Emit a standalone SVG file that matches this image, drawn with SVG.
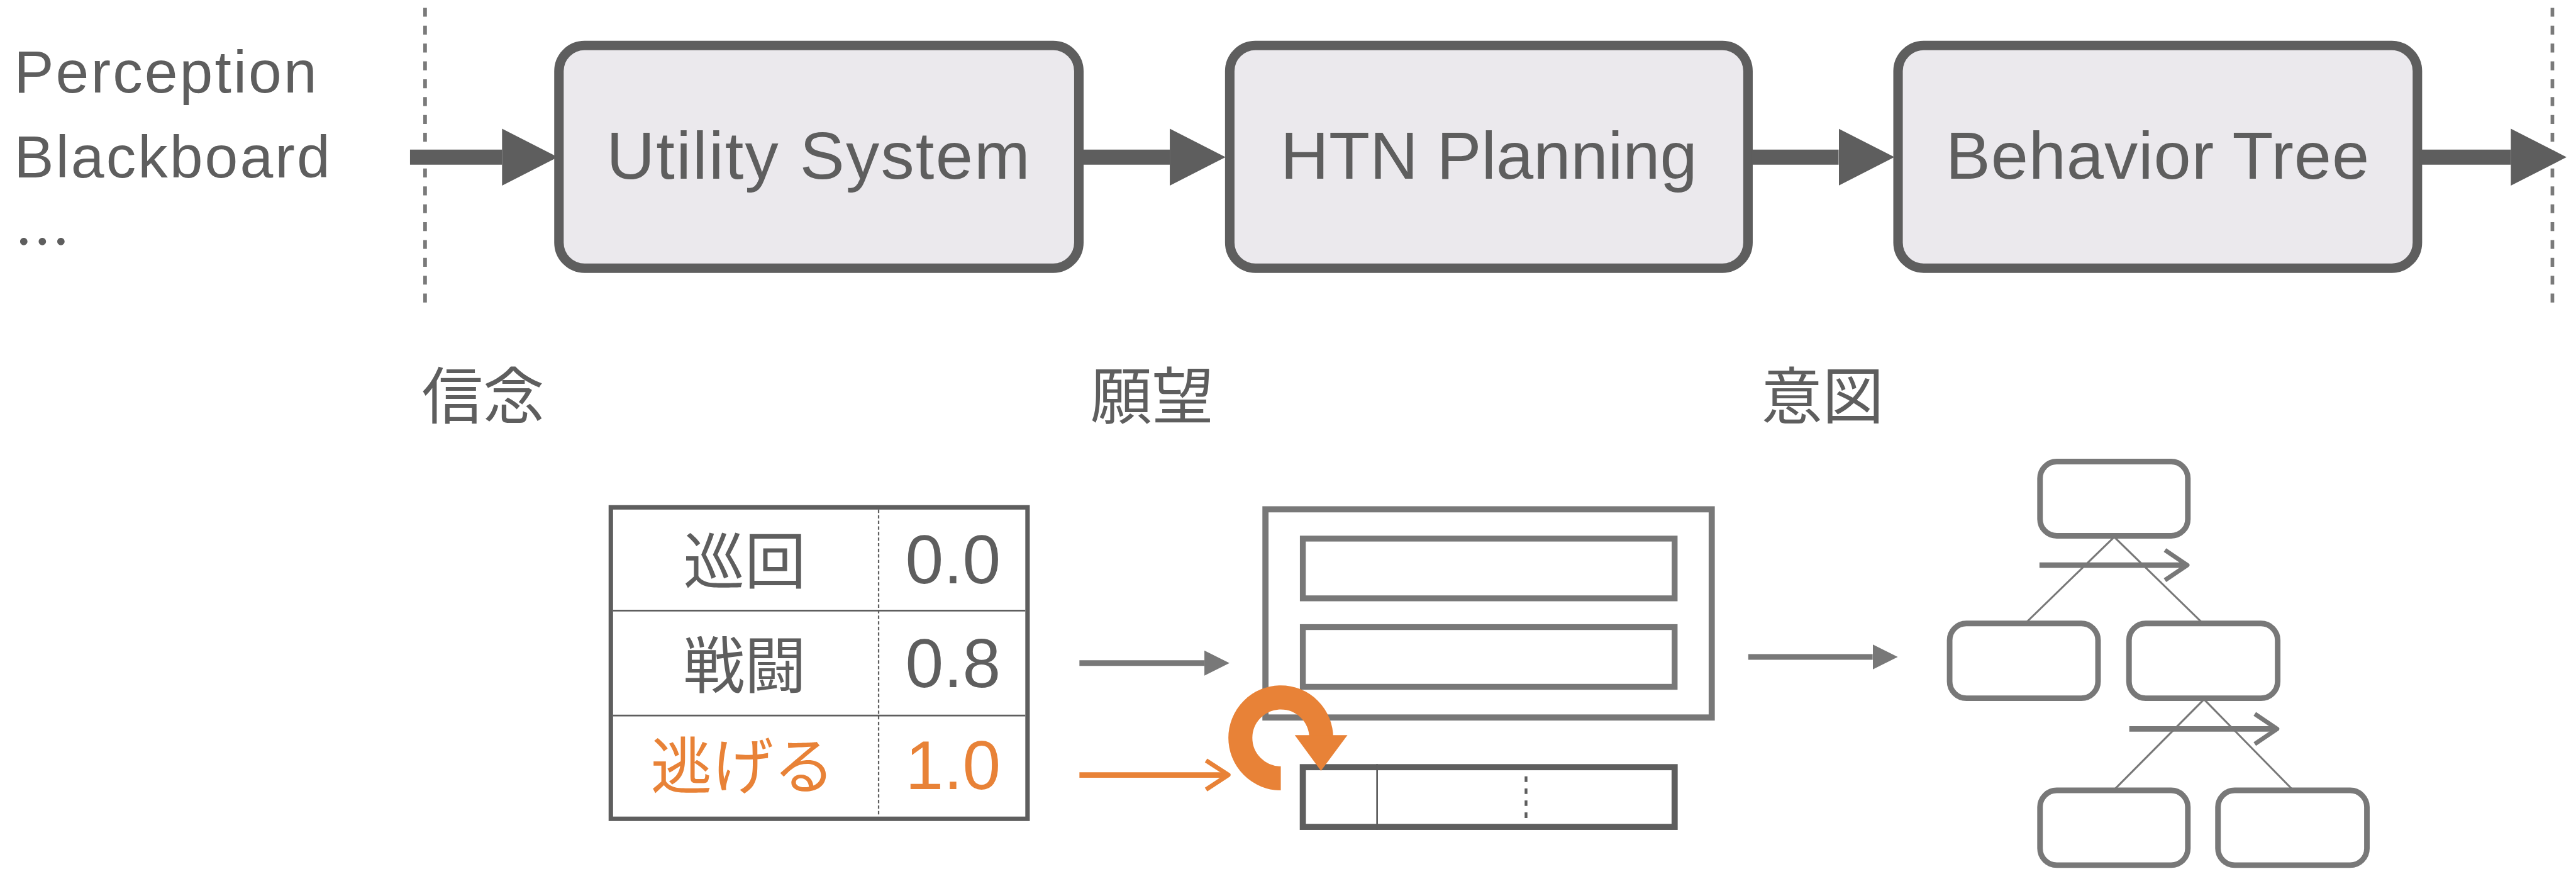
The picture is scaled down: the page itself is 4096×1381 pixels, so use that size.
<svg xmlns="http://www.w3.org/2000/svg" width="4096" height="1381" viewBox="0 0 4096 1381">
  <style>
    .lat { font-family: "Liberation Sans", Arial, sans-serif; fill: #5e5e5e; }
    .jp { font-family: "Noto Sans CJK JP", "Noto Sans CJK SC", sans-serif; fill: #5e5e5e; }
    .orange { fill: #e88237; }
    .stage { fill: #ebe9ed; stroke: #5e5e5e; stroke-width: 17; }
    .flow { stroke: #5e5e5e; stroke-width: 27; fill: none; }
    .sep { stroke: #7a7a7a; stroke-width: 6.5; stroke-dasharray: 16 16; fill: none; }
    .grid { fill: none; stroke: #5e5e5e; }
    .plan { fill: none; stroke: #787878; }
    .thin { stroke: #787878; stroke-width: 10; fill: none; }
    .thinO { stroke: #e88237; stroke-width: 10; fill: none; }
    .node { fill: #ffffff; stroke: #787878; stroke-width: 10; }
    .edge { stroke: #787878; stroke-width: 3.5; fill: none; }
  </style>
  <defs>
    <marker id="bigHead" markerUnits="userSpaceOnUse" viewBox="0 0 100 102" markerWidth="100" markerHeight="102" refX="0" refY="51" orient="auto">
      <path d="M0,0 L100,51 L0,102 Z" fill="#5e5e5e"/>
    </marker>
    <marker id="smallHead" markerUnits="userSpaceOnUse" viewBox="0 0 45 45" markerWidth="45" markerHeight="45" refX="0" refY="22.5" orient="auto">
      <path d="M0,0 L45,22.5 L0,45 Z" fill="#787878"/>
    </marker>
    <marker id="chevGray" markerUnits="userSpaceOnUse" viewBox="-45 -35 60 70" markerWidth="60" markerHeight="70" refX="0" refY="0" orient="auto" overflow="visible">
      <polyline points="-35,-27 5,0 -35,27" fill="none" stroke="#787878" stroke-width="8" stroke-linejoin="round"/>
    </marker>
    <marker id="chevOrange" markerUnits="userSpaceOnUse" viewBox="-45 -35 60 70" markerWidth="60" markerHeight="70" refX="0" refY="0" orient="auto" overflow="visible">
      <polyline points="-35,-26 5,0 -35,26" fill="none" stroke="#e88237" stroke-width="8" stroke-linejoin="round"/>
    </marker>
  </defs>

  <g transform="scale(0.887)">
    <!-- boundary lines of the pipeline -->
    <g id="boundaries">
      <line class="sep" x1="762" y1="14" x2="762" y2="556"/>
      <line class="sep" x1="4575.5" y1="14" x2="4575.5" y2="556"/>
    </g>

    <!-- inputs -->
    <g id="inputs">
      <text class="lat" x="25" y="166" font-size="107" letter-spacing="3.5">Perception</text>
      <text class="lat" x="25" y="318" font-size="107" letter-spacing="3.5">Blackboard</text>
      <text class="jp" x="26" y="470" font-size="100">…</text>
    </g>

    <!-- pipeline stages -->
    <g id="utility-system">
      <rect class="stage" x="1002" y="81.5" width="932" height="399" rx="46"/>
      <text class="lat" x="1468" y="320" font-size="120" letter-spacing="2.5" text-anchor="middle">Utility System</text>
    </g>
    <g id="htn-planning">
      <rect class="stage" x="2204.5" y="81.5" width="929" height="399" rx="46"/>
      <text class="lat" x="2669" y="320" font-size="120" text-anchor="middle">HTN Planning</text>
    </g>
    <g id="behavior-tree">
      <rect class="stage" x="3402.5" y="81.5" width="931" height="399" rx="46"/>
      <text class="lat" x="3868" y="320" font-size="120" letter-spacing="1" text-anchor="middle">Behavior Tree</text>
    </g>

    <!-- connectors -->
    <g id="connectors">
      <line class="flow" x1="735" y1="281.5" x2="900" y2="281.5" marker-end="url(#bigHead)"/>
      <line class="flow" x1="1940" y1="281.5" x2="2097" y2="281.5" marker-end="url(#bigHead)"/>
      <line class="flow" x1="3139" y1="281.5" x2="3296" y2="281.5" marker-end="url(#bigHead)"/>
      <line class="flow" x1="4338" y1="281.5" x2="4501" y2="281.5" marker-end="url(#bigHead)"/>
    </g>

    <!-- stage captions -->
    <g id="captions">
      <text class="jp" x="756" y="750" font-size="110">信念</text>
      <text class="jp" x="1955" y="750" font-size="110">願望</text>
      <text class="jp" x="3157" y="750" font-size="110">意図</text>
    </g>

    <!-- utility score table -->
    <g id="utility-table">
      <rect class="grid" x="1095" y="909" width="747" height="558" stroke-width="8"/>
      <line class="grid" x1="1099" y1="1094" x2="1838" y2="1094" stroke-width="3"/>
      <line class="grid" x1="1099" y1="1282" x2="1838" y2="1282" stroke-width="3"/>
      <line class="grid" x1="1575" y1="913" x2="1575" y2="1463" stroke-width="2.5" stroke-dasharray="6 4"/>
      <text class="jp" x="1335" y="1045" font-size="110" text-anchor="middle">巡回</text>
      <text class="lat" x="1708.5" y="1045" font-size="123" text-anchor="middle">0.0</text>
      <text class="jp" x="1335" y="1232" font-size="110" text-anchor="middle">戦闘</text>
      <text class="lat" x="1708.5" y="1231" font-size="123" text-anchor="middle">0.8</text>
      <text class="jp orange" x="1331.5" y="1413" font-size="110" text-anchor="middle">逃げる</text>
      <text class="lat orange" x="1708.5" y="1414" font-size="123" text-anchor="middle">1.0</text>
    </g>

    <!-- table feeding the planner -->
    <g id="table-links">
      <line class="thin" x1="1935" y1="1188" x2="2159" y2="1188" marker-end="url(#smallHead)"/>
      <line class="thinO" x1="1935" y1="1388.5" x2="2197" y2="1388.5" marker-end="url(#chevOrange)"/>
    </g>

    <!-- HTN planner: task list and plan queue -->
    <g id="task-list">
      <rect class="plan" x="2268.5" y="912.5" width="800" height="373" stroke-width="11"/>
      <rect class="plan" x="2335.5" y="965" width="666.5" height="107" stroke-width="10.5"/>
      <rect class="plan" x="2335.5" y="1123.5" width="666.5" height="107" stroke-width="10.5"/>
    </g>
    <g id="plan-queue">
      <rect class="grid" x="2335.5" y="1374.5" width="666.5" height="107" stroke-width="11"/>
      <line class="grid" x1="2468.6" y1="1369" x2="2468.6" y2="1487" stroke-width="3"/>
      <line class="grid" x1="2735.6" y1="1391" x2="2735.6" y2="1468" stroke-width="5" stroke-dasharray="10 11.5"/>
    </g>
    <g id="replan-loop">
      <path d="M2296,1394.5 A72.5,72.5 0 1 1 2368.5,1322" fill="none" stroke="#e88237" stroke-width="43"/>
      <path d="M2321,1317 L2415.5,1317 L2368,1381 Z" fill="#e88237"/>
    </g>

    <!-- planner to behavior tree -->
    <g id="plan-link">
      <line class="thin" x1="3134" y1="1177" x2="3357" y2="1177" marker-end="url(#smallHead)"/>
    </g>

    <!-- behavior tree -->
    <g id="tree-edges">
      <line class="edge" x1="3790" y1="962" x2="3632.5" y2="1115"/>
      <line class="edge" x1="3790" y1="962" x2="3947" y2="1115"/>
      <line class="edge" x1="3951" y1="1253" x2="3791" y2="1414"/>
      <line class="edge" x1="3951" y1="1253" x2="4109" y2="1414"/>
    </g>
    <g id="bt-root"><rect class="node" x="3657" y="827" width="265" height="133" rx="30"/></g>
    <g id="bt-left"><rect class="node" x="3495" y="1117" width="266" height="134" rx="30"/></g>
    <g id="bt-right"><rect class="node" x="3816.5" y="1117" width="266.5" height="134" rx="30"/></g>
    <g id="bt-right-left"><rect class="node" x="3657" y="1416" width="265" height="134" rx="30"/></g>
    <g id="bt-right-right"><rect class="node" x="3976" y="1416" width="267" height="134" rx="30"/></g>
    <g id="tree-order">
      <line class="thin" x1="3656" y1="1012.5" x2="3916" y2="1012.5" stroke-width="9" marker-end="url(#chevGray)"/>
      <line class="thin" x1="3817" y1="1306" x2="4077" y2="1306" stroke-width="9" marker-end="url(#chevGray)"/>
    </g>
  </g>
</svg>
